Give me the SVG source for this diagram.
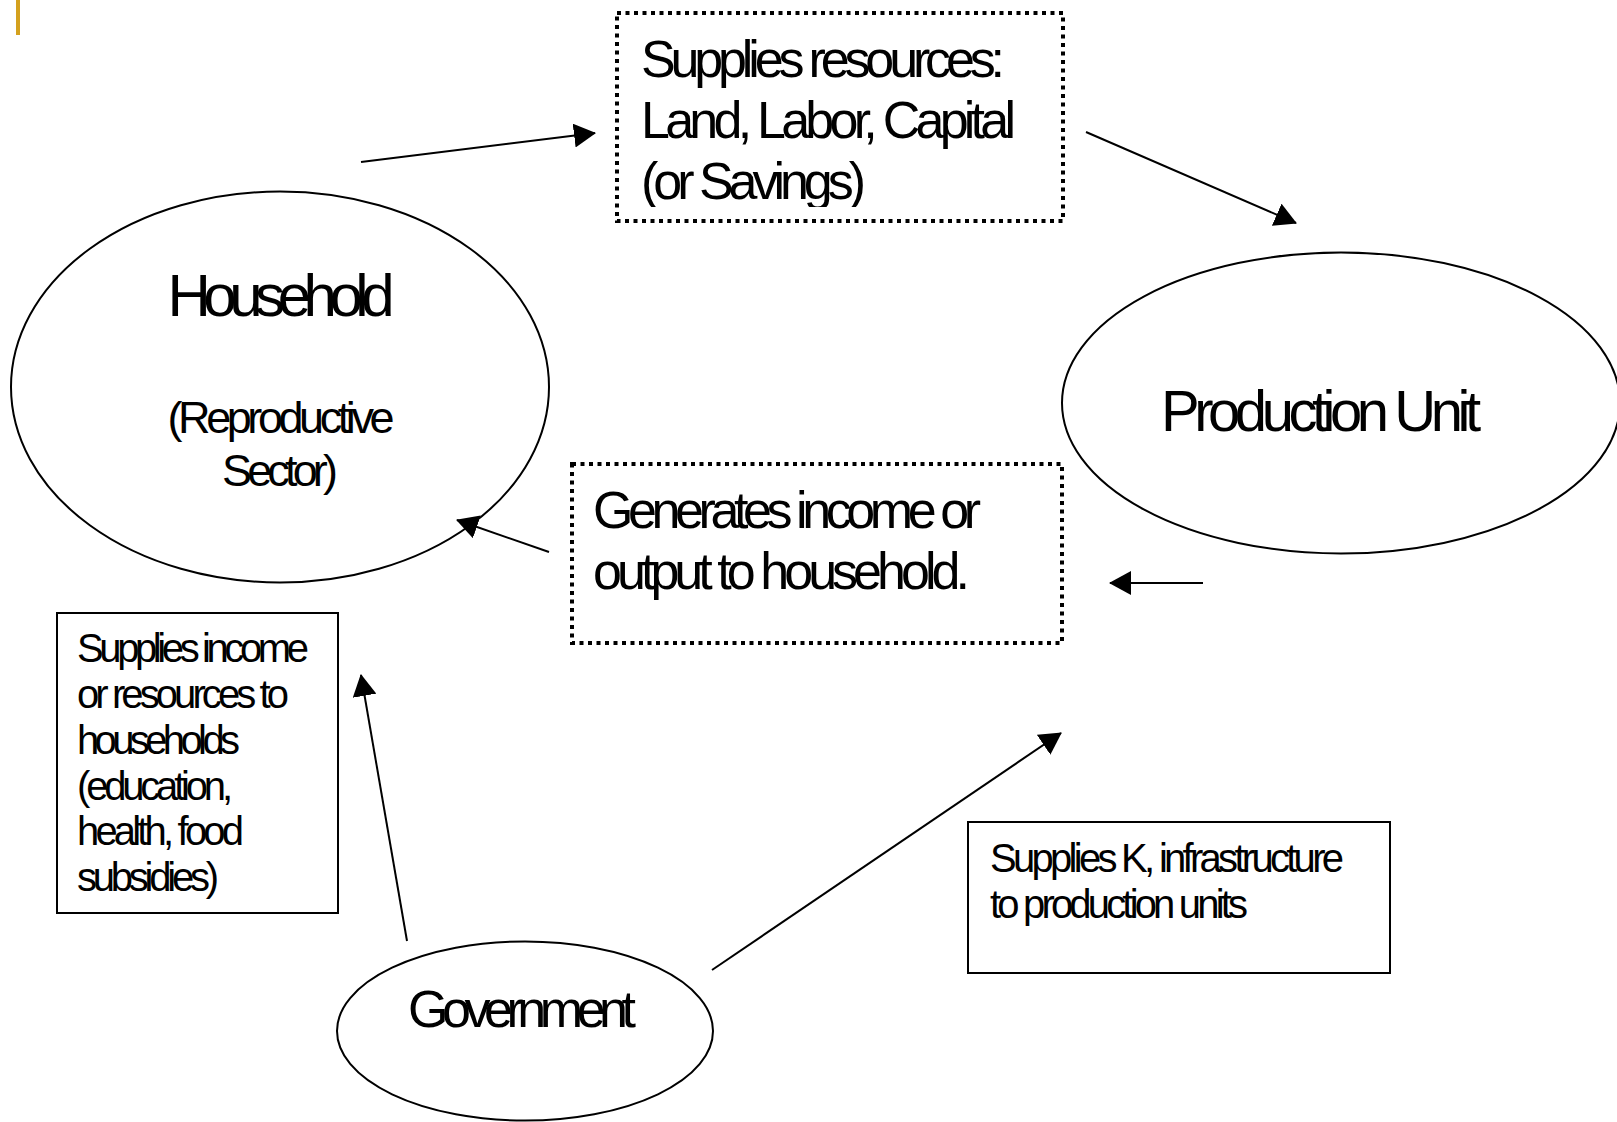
<svg xmlns="http://www.w3.org/2000/svg" width="1617" height="1122" viewBox="0 0 1617 1122">
  <style>
    text { font-family: "Liberation Sans", Arial, sans-serif; fill: #000; }
    .ell { fill: none; stroke: #000; stroke-width: 2; }
    .box { fill: none; stroke: #000; stroke-width: 2; }
    .dot { fill: none; stroke: #000; stroke-width: 4; stroke-dasharray: 4 4.5; }
    .conn { stroke: #000; stroke-width: 2; fill: none; marker-end: url(#arr); }
  </style>
  <defs>
    <marker id="arr" viewBox="0 0 22 24" refX="21" refY="12" markerWidth="22" markerHeight="24" markerUnits="userSpaceOnUse" orient="auto">
      <path d="M0,0 L22,12 L0,24 z" fill="#000"/>
    </marker>
    <clipPath id="clipBox1">
      <rect x="617" y="13" width="446" height="194"/>
    </clipPath>
  </defs>
  <rect width="1617" height="1122" fill="#fff"/>
  <rect x="16" y="0" width="4" height="35" fill="#D4A11E"/>

  <g id="household">
    <ellipse class="ell" cx="280" cy="387" rx="269" ry="195.5"/>
    <text x="281" y="316" font-size="60" text-anchor="middle" textLength="227" lengthAdjust="spacing">Household</text>
    <text x="281" y="433" font-size="45" text-anchor="middle" textLength="227" lengthAdjust="spacing">(Reproductive</text>
    <text x="280" y="486" font-size="45" text-anchor="middle" textLength="116" lengthAdjust="spacing">Sector)</text>
  </g>

  <g id="production-unit">
    <ellipse class="ell" cx="1341" cy="403" rx="279" ry="150.5"/>
    <text x="1321" y="431" font-size="58" text-anchor="middle" textLength="320" lengthAdjust="spacing">Production Unit</text>
  </g>

  <g id="government">
    <ellipse class="ell" cx="525" cy="1031" rx="188" ry="89.5"/>
    <text x="522" y="1027" font-size="52" text-anchor="middle" textLength="228" lengthAdjust="spacing">Government</text>
  </g>

  <g id="supplies-resources">
    <rect class="dot" x="617" y="13" width="446" height="208"/>
    <g clip-path="url(#clipBox1)">
      <text x="641" y="77" font-size="52" textLength="364" lengthAdjust="spacing">Supplies resources:</text>
      <text x="641" y="138" font-size="52" textLength="375" lengthAdjust="spacing">Land, Labor, Capital</text>
      <text x="641" y="199" font-size="52" textLength="225" lengthAdjust="spacing">(or Savings)</text>
    </g>
  </g>

  <g id="generates-income">
    <rect class="dot" x="572" y="464" width="490" height="179"/>
    <text x="593" y="528" font-size="52" textLength="388" lengthAdjust="spacing">Generates income or</text>
    <text x="593" y="589" font-size="52" textLength="377" lengthAdjust="spacing">output to household.</text>
  </g>

  <g id="supplies-income">
    <rect class="box" x="57" y="613" width="281" height="300"/>
    <text x="77" y="662" font-size="40" textLength="232" lengthAdjust="spacing">Supplies income</text>
    <text x="77" y="708" font-size="40" textLength="212" lengthAdjust="spacing">or resources to</text>
    <text x="77" y="753.5" font-size="40" textLength="163" lengthAdjust="spacing">households</text>
    <text x="77" y="799.5" font-size="40" textLength="156" lengthAdjust="spacing">(education,</text>
    <text x="77" y="845" font-size="40" textLength="167" lengthAdjust="spacing">health, food</text>
    <text x="77" y="891" font-size="40" textLength="142" lengthAdjust="spacing">subsidies)</text>
  </g>

  <g id="supplies-k">
    <rect class="box" x="968" y="822" width="422" height="151"/>
    <text x="990" y="872" font-size="40" textLength="354" lengthAdjust="spacing">Supplies K, infrastructure</text>
    <text x="990" y="918" font-size="40" textLength="258" lengthAdjust="spacing">to production units</text>
  </g>

  <g id="connectors">
    <line class="conn" x1="361" y1="162" x2="595" y2="133"/>
    <line class="conn" x1="1086" y1="132" x2="1296" y2="223"/>
    <line class="conn" x1="549" y1="552" x2="457" y2="520"/>
    <line class="conn" x1="1203" y1="583" x2="1110" y2="583"/>
    <line class="conn" x1="407" y1="941" x2="361" y2="675"/>
    <line class="conn" x1="712" y1="970" x2="1061" y2="733"/>
  </g>
</svg>
